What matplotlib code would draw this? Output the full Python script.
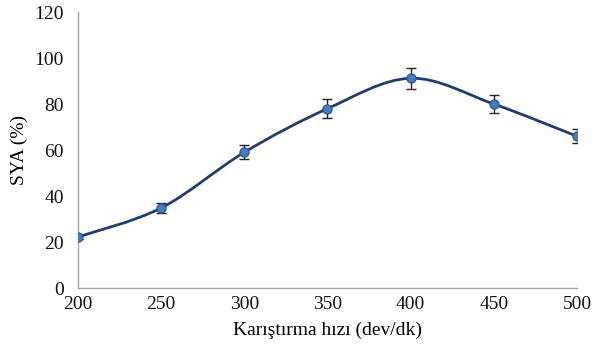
import matplotlib.pyplot as plt
import numpy as np
from matplotlib.path import Path
from matplotlib.patches import PathPatch

plt.rcParams['font.family'] = ['Liberation Serif', 'DejaVu Serif']

speed = [200, 250, 300, 350, 400, 450, 500]
sya = [22.2, 34.8, 59.0, 78.0, 91.2, 80.0, 66.0]
sya_err = [1.0, 2.0, 3.0, 4.0, 4.5, 4.0, 3.0]

fig = plt.figure(figsize=(5.93, 3.54), dpi=100)
ax = fig.add_axes([0.1315, 0.1864, 0.8415, 0.7796])

# smoothed line through the points (cubic bezier, catmull-rom style)
pts = np.column_stack([speed, sya]).astype(float)
ext = np.vstack([pts[0], pts, pts[-1]])
verts = [tuple(pts[0])]
codes = [Path.MOVETO]
for i in range(len(pts) - 1):
    p0, p1, p2, p3 = ext[i], ext[i + 1], ext[i + 2], ext[i + 3]
    c1 = p1 + (p2 - p0) / 6
    c2 = p2 - (p3 - p1) / 6
    verts += [tuple(c1), tuple(c2), tuple(p2)]
    codes += [Path.CURVE4] * 3
ax.add_patch(PathPatch(Path(verts, codes), facecolor='none',
                       edgecolor='#1f3d6e', lw=2.0, zorder=2))

ax.errorbar(speed, sya, yerr=sya_err, fmt='none', ecolor='#222222',
            elinewidth=1.0, capsize=3.5, capthick=1.0, zorder=3)
ax.plot(speed, sya, 'o', ms=6.5, mfc='#4a7ebb', mec='#2f5c95', mew=1.0, zorder=4)

ax.set_xlim(200, 500)
ax.set_ylim(0, 120)
ax.set_xticks(range(200, 501, 50))
ax.set_yticks(range(0, 121, 20))
ax.tick_params(length=0, labelsize=14, pad=6, colors='#111111')
ax.tick_params(axis='y', pad=10)
for s in ['top', 'right']:
    ax.spines[s].set_visible(False)
for s in ['left', 'bottom']:
    ax.spines[s].set_color('#a6a6a6')
    ax.spines[s].set_linewidth(1.0)
ax.set_xlabel('Karıştırma hızı (dev/dk)', fontsize=14, labelpad=6)
ax.set_ylabel('SYA (%)', fontsize=14, labelpad=5)

fig.savefig('out.png', dpi=100)
